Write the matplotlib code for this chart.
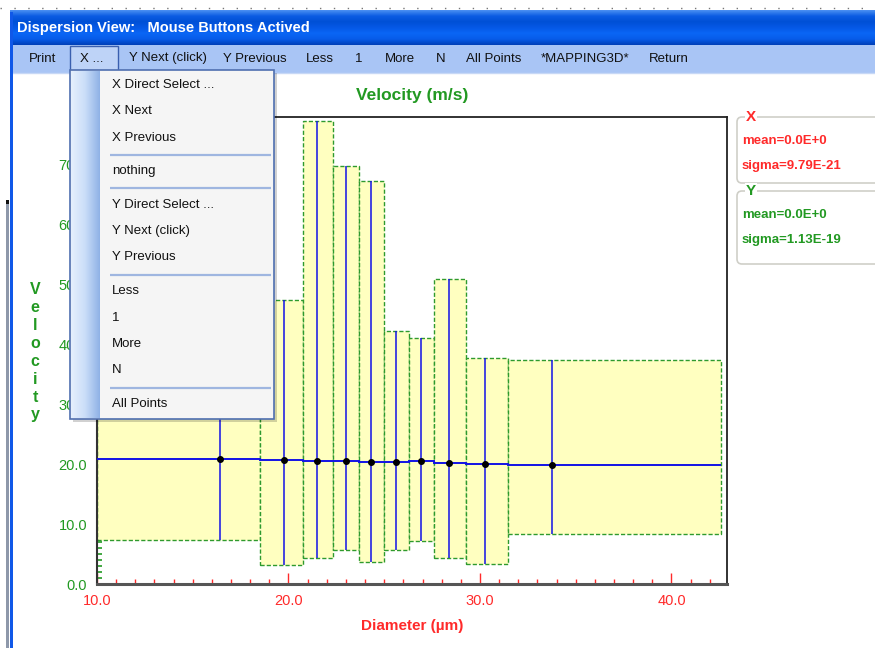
import numpy as np
import matplotlib
matplotlib.use("Agg")
import matplotlib.pyplot as plt
from matplotlib.patches import Rectangle, FancyBboxPatch
from matplotlib.ticker import MultipleLocator, FormatStrFormatter
from matplotlib.colors import LinearSegmentedColormap

# ---------------- data ----------------
bin_edges = [10.0, 18.52, 20.74, 22.3, 23.68, 25.0, 26.27, 27.6, 29.25, 31.47, 42.6]
whisker_x = [16.4, 19.74, 21.5, 23.0, 24.33, 25.63, 26.94, 28.4, 30.25, 33.75]
mean_v = [20.8, 20.7, 20.6, 20.5, 20.4, 20.3, 20.5, 20.2, 20.1, 19.9]
low_v = [7.3, 3.1, 4.3, 5.7, 3.7, 5.7, 7.1, 4.4, 3.4, 8.3]
high_v = [36.0, 47.3, 77.3, 69.7, 67.3, 42.2, 41.1, 50.8, 37.7, 37.3]

x_ticks = [10, 20, 30, 40]
y_ticks = [0, 10, 20, 30, 40, 50, 60, 70]

menu_items = ["Print", "X ...", "Y Next (click)", "Y Previous", "Less", "1",
              "More", "N", "All Points", "*MAPPING3D*", "Return"]
dropdown_groups = [["X Direct Select ...", "X Next", "X Previous"],
                   ["nothing"],
                   ["Y Direct Select ...", "Y Next (click)", "Y Previous"],
                   ["Less", "1", "More", "N"],
                   ["All Points"]]
stat_x = ["mean=0.0E+0", "sigma=9.79E-21"]
stat_y = ["mean=0.0E+0", "sigma=1.13E-19"]

GREEN = "#229922"
RED = "#FF2A2A"
BLUE = "#1212E6"
W, H = 875, 648

plt.rcParams['font.family'] = ['Liberation Sans', 'DejaVu Sans']
fig = plt.figure(figsize=(W / 100, H / 100), dpi=100)
fig.patch.set_facecolor("white")

# ---------------- main axes ----------------
ax = fig.add_axes([97 / W, 1 - 584 / H, 630 / W, 467 / H])
edges = np.array(bin_edges)
lows = np.array(low_v)
highs = np.array(high_v)
ax.bar(edges[:-1], highs - lows, width=np.diff(edges), bottom=lows, align='edge',
       facecolor="#FFFFC0", edgecolor="#2E9A2E", linestyle=(0, (3, 1.5)),
       linewidth=1.0, zorder=2)
ax.vlines(whisker_x, lows, highs, color=BLUE, lw=1.1, zorder=3)
ax.stairs(mean_v, edges, baseline=None, color=BLUE, lw=1.4, zorder=4)
ax.plot(whisker_x, mean_v, 'o', color='black', ms=4, zorder=5)

ax.set_xlim(10, 42.9)
ax.set_ylim(0, 77.9)
ax.set_xticks(x_ticks)
ax.set_yticks(y_ticks)
ax.xaxis.set_major_formatter(FormatStrFormatter('%.1f'))
ax.yaxis.set_major_formatter(FormatStrFormatter('%.1f'))
ax.xaxis.set_minor_locator(MultipleLocator(1))
ax.yaxis.set_minor_locator(MultipleLocator(1))
ax.tick_params(axis='x', which='both', direction='in', colors=RED,
               labelcolor=RED, labelsize=10.5, pad=7)
ax.tick_params(axis='x', which='major', length=8, width=1)
ax.tick_params(axis='x', which='minor', length=3.5, width=1)
ax.tick_params(axis='y', which='both', direction='in', colors=GREEN,
               labelcolor=GREEN, labelsize=10.5, pad=7)
ax.tick_params(axis='y', which='major', length=8, width=1.2)
ax.tick_params(axis='y', which='minor', length=3.5, width=1.2)
for s in ['top', 'right']:
    ax.spines[s].set_color('#222222')
    ax.spines[s].set_linewidth(1.3)
ax.spines['left'].set_color('#333333')
ax.spines['left'].set_linewidth(1.5)
ax.spines['bottom'].set_color('#555555')
ax.spines['bottom'].set_linewidth(2.2)

ax.set_title("Velocity (m/s)", color=GREEN, fontsize=12.5, fontweight='bold', pad=12)
ax.set_xlabel("Diameter (\u00b5m)", color=RED, fontsize=11, fontweight='bold', labelpad=8)
fig.text(35 / W, 1 - 352 / H, "\n".join("Velocity"), color=GREEN, fontsize=11.5,
         fontweight='bold', ha='center', va='center', linespacing=1.25)

# ---------------- window chrome overlay (pixel coords) ----------------
ov = fig.add_axes([0, 0, 1, 1], zorder=10)
ov.patch.set_alpha(0)
ov.axis('off')

# top dotted strip
ov.hlines(8, 0, W, color='#777777', lw=1, linestyles=(0, (1, 9)))

# title bar gradient
tb = LinearSegmentedColormap.from_list(
    'tb', ["#4A8FF2", "#0B5BE2", "#0050D6", "#0558E6", "#0A66F5", "#075CEA", "#0040B8"])
grad = np.linspace(0, 1, 64).reshape(-1, 1)
ov.imshow(grad, cmap=tb, extent=(10, W, 45, 10), aspect='auto', zorder=1)
ov.text(17, 28, "Dispersion View:   Mouse Buttons Actived", color='white',
        fontsize=10.5, fontweight='bold', va='center', ha='left', zorder=3)

# menu bar
ov.add_patch(Rectangle((12, 45), W - 12, 28, facecolor="#A9C5F5", edgecolor='none', zorder=1))
ov.hlines(72.5, 12, W, color="#C7D8F6", lw=1, zorder=2)
# left window border
ov.add_patch(Rectangle((9.5, 12), 3, H - 12, facecolor="#1058E8", edgecolor='none', zorder=2))
ov.add_patch(Rectangle((6, 200), 3, H - 200, facecolor="#8E98AA", edgecolor='none', zorder=2))
ov.add_patch(Rectangle((6, 200), 3, 4, facecolor="#111111", edgecolor='none', zorder=3))

# highlighted menu item
ov.add_patch(Rectangle((70, 46), 48, 25, facecolor="#BED3F7", edgecolor="#3A5FAF", lw=1, zorder=2))
menu_x = [43, 92, 168, 255, 320, 359, 400, 441, 494, 585, 669]
for label, mx in zip(menu_items, menu_x):
    ov.text(mx, 58.5, label, fontsize=9, ha='center', va='center', color='#111111',
            family=['DejaVu Sans'], zorder=3) if False else \
    ov.text(mx, 58.5, label, fontsize=9.5, ha='center', va='center', color='#111111', zorder=3)

# dropdown menu
ov.add_patch(Rectangle((73, 73), 204, 349, facecolor='#000000', alpha=0.18, edgecolor='none', zorder=4))
ov.add_patch(Rectangle((70, 70), 204, 349, facecolor="#F5F5F5", edgecolor="#4F6FB0", lw=1.2, zorder=5))
strip = LinearSegmentedColormap.from_list('st', ["#E6F0FD", "#C9DDF8", "#8FB2E6"])
ov.imshow(np.linspace(0, 1, 64).reshape(1, -1), cmap=strip, extent=(71, 100, 418, 71),
          aspect='auto', zorder=6)
y = 85
sep_y = []
item_pos = []
for gi, grp in enumerate(dropdown_groups):
    for it in grp:
        item_pos.append((it, y))
        y += 26.5
    if gi < len(dropdown_groups) - 1:
        sep_y.append(y - 9)
        y += 7
# override with measured positions
ys = [85, 111, 138, 171, 205, 231, 257, 291, 318, 344, 370, 404]
items = [it for g in dropdown_groups for it in g]
for it, yy in zip(items, ys):
    ov.text(112, yy, it, fontsize=9.5, ha='left', va='center', color='#111111', zorder=7)
for sy in [155, 188, 275, 388]:
    ov.hlines(sy, 110, 271, color="#9FB6E0", lw=1.6, zorder=7)

# stat boxes
for (y0, y1, lab, col, lines) in [(117, 183, "X", RED, stat_x), (191, 264, "Y", GREEN, stat_y)]:
    ov.add_patch(FancyBboxPatch((737, y0), 160, y1 - y0, boxstyle="round,pad=0,rounding_size=5",
                                facecolor='white', edgecolor="#CFCFC8", lw=1.2, zorder=3))
    ov.text(751, y0, lab, color=col, fontsize=11, fontweight='bold', ha='center', va='center',
            zorder=4, bbox=dict(facecolor='white', edgecolor='none', pad=0.5))
    ov.text(742, y0 + 24, lines[0], color=col, fontsize=9.5, fontweight='bold', ha='left',
            va='center', zorder=4)
    ov.text(742, y0 + 49, lines[1], color=col, fontsize=9.5, fontweight='bold', ha='left',
            va='center', zorder=4)

ov.set_xlim(0, W)
ov.set_ylim(H, 0)

fig.savefig("out.png", dpi=100)
